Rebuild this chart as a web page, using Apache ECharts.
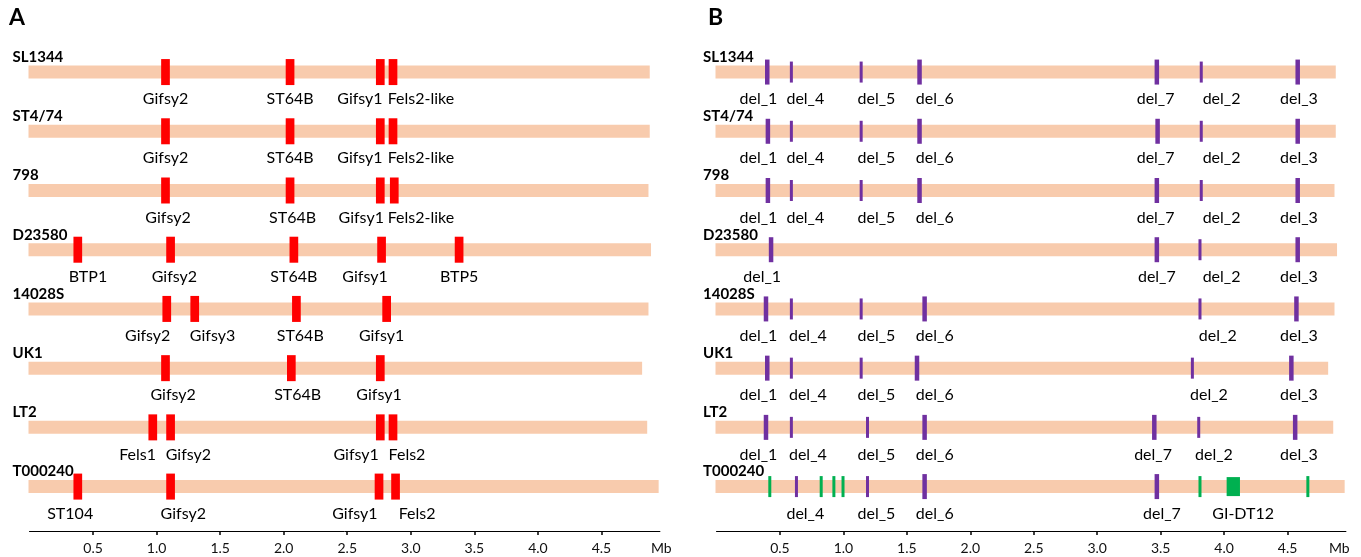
<!DOCTYPE html>
<html><head><meta charset="utf-8">
<script src="https://cdn.jsdelivr.net/npm/echarts@6/dist/echarts.min.js"></script>
<style>html,body{margin:0;padding:0;background:#fff}#c{width:1361px;height:557px}</style>
</head><body><div id="c"></div><script>
// ---------- data ----------
const strains = ['SL1344', 'ST4/74', '798', 'D23580', '14028S', 'UK1', 'LT2', 'T000240'];
const genomeLengths = [4.88, 4.88, 4.87, 4.89, 4.87, 4.82, 4.86, 4.95]; // Mb
const xTicks = [0.5, 1.0, 1.5, 2.0, 2.5, 3.0, 3.5, 4.0, 4.5];
const axisUnit = 'Mb';
// Panel A prophages: [row, name, position Mb, label position Mb]
const prophages = [
  [0, 'Gifsy2', 1.07, 1.07], [0, 'ST64B', 2.05, 2.05], [0, 'Gifsy1', 2.76, 2.60], [0, 'Fels2-like', 2.86, 3.08],
  [1, 'Gifsy2', 1.07, 1.07], [1, 'ST64B', 2.05, 2.05], [1, 'Gifsy1', 2.76, 2.60], [1, 'Fels2-like', 2.86, 3.08],
  [2, 'Gifsy2', 1.07, 1.09], [2, 'ST64B', 2.05, 2.07], [2, 'Gifsy1', 2.76, 2.61], [2, 'Fels2-like', 2.87, 3.08],
  [3, 'BTP1', 0.38, 0.46], [3, 'Gifsy2', 1.11, 1.14], [3, 'ST64B', 2.08, 2.08], [3, 'Gifsy1', 2.77, 2.64], [3, 'BTP5', 3.38, 3.38],
  [4, 'Gifsy2', 1.08, 0.93], [4, 'Gifsy3', 1.30, 1.44], [4, 'ST64B', 2.10, 2.13], [4, 'Gifsy1', 2.81, 2.77],
  [5, 'Gifsy2', 1.07, 1.13], [5, 'ST64B', 2.06, 2.11], [5, 'Gifsy1', 2.76, 2.75],
  [6, 'Fels1', 0.97, 0.85], [6, 'Gifsy2', 1.11, 1.25], [6, 'Gifsy1', 2.76, 2.57], [6, 'Fels2', 2.86, 2.97],
  [7, 'ST104', 0.38, 0.32], [7, 'Gifsy2', 1.11, 1.21], [7, 'Gifsy1', 2.75, 2.56], [7, 'Fels2', 2.88, 3.05]
];
// Panel B deletions: [row, name, position Mb, label position Mb]
const deletions = [
  [0, 'del_1', 0.40, 0.33], [0, 'del_4', 0.59, 0.70], [0, 'del_5', 1.14, 1.26], [0, 'del_6', 1.60, 1.72], [0, 'del_7', 3.47, 3.46], [0, 'del_2', 3.82, 3.98], [0, 'del_3', 4.58, 4.59],
  [1, 'del_1', 0.405, 0.33], [1, 'del_4', 0.59, 0.70], [1, 'del_5', 1.14, 1.26], [1, 'del_6', 1.60, 1.72], [1, 'del_7', 3.476, 3.46], [1, 'del_2', 3.82, 3.98], [1, 'del_3', 4.58, 4.59],
  [2, 'del_1', 0.405, 0.33], [2, 'del_4', 0.59, 0.70], [2, 'del_5', 1.14, 1.26], [2, 'del_6', 1.60, 1.72], [2, 'del_7', 3.47, 3.46], [2, 'del_2', 3.82, 3.98], [2, 'del_3', 4.58, 4.59],
  [3, 'del_1', 0.43, 0.36], [3, 'del_7', 3.47, 3.47], [3, 'del_2', 3.81, 3.98], [3, 'del_3', 4.58, 4.59],
  [4, 'del_1', 0.39, 0.33], [4, 'del_4', 0.59, 0.72], [4, 'del_5', 1.14, 1.26], [4, 'del_6', 1.64, 1.72], [4, 'del_2', 3.81, 3.95], [4, 'del_3', 4.57, 4.59],
  [5, 'del_1', 0.40, 0.33], [5, 'del_4', 0.59, 0.72], [5, 'del_5', 1.14, 1.26], [5, 'del_6', 1.58, 1.72], [5, 'del_2', 3.75, 3.88], [5, 'del_3', 4.53, 4.59],
  [6, 'del_1', 0.39, 0.33], [6, 'del_4', 0.59, 0.72], [6, 'del_5', 1.19, 1.26], [6, 'del_6', 1.64, 1.72], [6, 'del_7', 3.45, 3.44], [6, 'del_2', 3.80, 3.92], [6, 'del_3', 4.56, 4.59],
  [7, 'del_4', 0.63, 0.70], [7, 'del_5', 1.19, 1.26], [7, 'del_6', 1.64, 1.72], [7, 'del_7', 3.47, 3.51]
];
const majorDeletions = ['del_1', 'del_6', 'del_7', 'del_3'];
// Panel B genomic islands in T000240: [row, name, start Mb, end Mb, label position Mb]
const islands = [
  [7, '', 0.42, 0.42, 0.42], [7, '', 0.825, 0.825, 0.825], [7, '', 0.925, 0.925, 0.925], [7, '', 0.997, 0.997, 0.997],
  [7, '', 3.81, 3.81, 3.81], [7, 'GI-DT12', 4.02, 4.125, 4.15], [7, '', 4.66, 4.66, 4.66]
];

// ---------- styles ----------
const PEACH = '#F8CBAD', RED = '#FF0000', PURPLE = '#7030A0', GREEN = '#00B050';
const FONT = 'Lato, "Open Sans", sans-serif';
const LABEL_DY = 27;

function textEl(x, y, text, opts) {
  return {
    type: 'text', x: x, y: y,
    style: Object.assign({ text: text, fill: '#000', fontSize: 16, fontFamily: FONT,
      align: 'center', verticalAlign: 'middle' }, opts || {})
  };
}

function chromSeries(gridIdx, labelDx) {
  return {
    type: 'custom', xAxisIndex: gridIdx, yAxisIndex: gridIdx, silent: true, z: 1,
    data: strains.map((s, i) => [i, genomeLengths[i]]),
    renderItem: function (params, api) {
      const row = api.value(0), len = api.value(1);
      const p0 = api.coord([0, row]), p1 = api.coord([len, row]);
      const h = 13;
      return { type: 'group', children: [
        { type: 'rect', shape: { x: p0[0] - 1, y: p0[1] - h / 2, width: p1[0] - p0[0] + 1, height: h }, style: { fill: PEACH } },
        textEl(p0[0] + labelDx, p0[1] - 15, strains[params.dataIndex], { fontWeight: 'bold', fontSize: 15, align: 'left' })
      ] };
    }
  };
}

const option = {
  animation: false,
  backgroundColor: '#fff',
  title: [
    { text: 'A', left: 9, top: 6, padding: 0, textStyle: { fontFamily: FONT, fontWeight: 'bold', fontSize: 23, color: '#000' } },
    { text: 'B', left: 708, top: 6, padding: 0, textStyle: { fontFamily: FONT, fontWeight: 'bold', fontSize: 23, color: '#000' } }
  ],
  grid: [
    { left: 29.5, top: 1, width: 4.96 * 127.1, height: 530 },
    { left: 716.5, top: 1, width: 4.96 * 126.9, height: 530 }
  ],
  xAxis: [0, 1].map(i => ({
    gridIndex: i, type: 'value', min: 0, max: 4.96, position: 'bottom',
    name: axisUnit, nameLocation: 'end', nameGap: i === 0 ? -9 : -17,
    nameTextStyle: { fontFamily: FONT, fontSize: 14, color: '#111', verticalAlign: 'top', padding: [10, 0, 0, 0] },
    axisLine: { show: true, onZero: false, lineStyle: { color: '#000', width: 1 } },
    axisTick: { show: true, customValues: xTicks, length: 4, inside: false, lineStyle: { color: '#000', width: 1.5 } },
    axisLabel: { customValues: xTicks, formatter: v => v.toFixed(1), margin: 10, fontSize: 14, color: '#111', fontFamily: FONT },
    splitLine: { show: false }
  })),
  yAxis: [0, 1].map(i => ({ gridIndex: i, type: 'value', min: -1.2, max: 7.75, inverse: true, show: false })),
  series: [
    chromSeries(0, -17),
    chromSeries(1, -13.5),
    {
      type: 'custom', xAxisIndex: 0, yAxisIndex: 0, silent: true, z: 2,
      data: prophages.map(d => [d[2], d[0], d[3]]),
      renderItem: function (params, api) {
        const p = api.coord([api.value(0), api.value(1)]);
        const lp = api.coord([api.value(2), api.value(1)]);
        const w = 8.7, h = 26;
        return { type: 'group', children: [
          { type: 'rect', shape: { x: p[0] - w / 2, y: p[1] - h / 2, width: w, height: h }, style: { fill: RED } },
          textEl(lp[0], p[1] + LABEL_DY, prophages[params.dataIndex][1])
        ] };
      }
    },
    {
      type: 'custom', xAxisIndex: 1, yAxisIndex: 1, silent: true, z: 2,
      data: deletions.map(d => [d[2], d[0], d[3]]),
      renderItem: function (params, api) {
        const p = api.coord([api.value(0), api.value(1)]);
        const lp = api.coord([api.value(2), api.value(1)]);
        const name = deletions[params.dataIndex][1];
        const major = majorDeletions.indexOf(name) >= 0;
        const w = major ? 4.5 : 3, h = major ? 25 : 21;
        return { type: 'group', children: [
          { type: 'rect', shape: { x: p[0] - w / 2, y: p[1] - h / 2, width: w, height: h }, style: { fill: PURPLE } },
          textEl(lp[0], p[1] + LABEL_DY, name)
        ] };
      }
    },
    {
      type: 'custom', xAxisIndex: 1, yAxisIndex: 1, silent: true, z: 2,
      data: islands.map(d => [d[2], d[3], d[0], d[4]]),
      renderItem: function (params, api) {
        const a = api.coord([api.value(0), api.value(2)]);
        const b = api.coord([api.value(1), api.value(2)]);
        const lp = api.coord([api.value(3), api.value(2)]);
        const name = islands[params.dataIndex][1];
        const block = b[0] - a[0] > 1;
        const w = block ? b[0] - a[0] : 3, h = block ? 19 : 21;
        const x = block ? a[0] : a[0] - w / 2;
        const children = [{ type: 'rect', shape: { x: x, y: a[1] - h / 2, width: w, height: h }, style: { fill: GREEN } }];
        if (name) children.push(textEl(lp[0], a[1] + LABEL_DY, name));
        return { type: 'group', children: children };
      }
    }
  ]
};
const chart = echarts.init(document.getElementById('c'), null, { renderer: 'canvas' });
chart.setOption(option);
</script></body></html>
